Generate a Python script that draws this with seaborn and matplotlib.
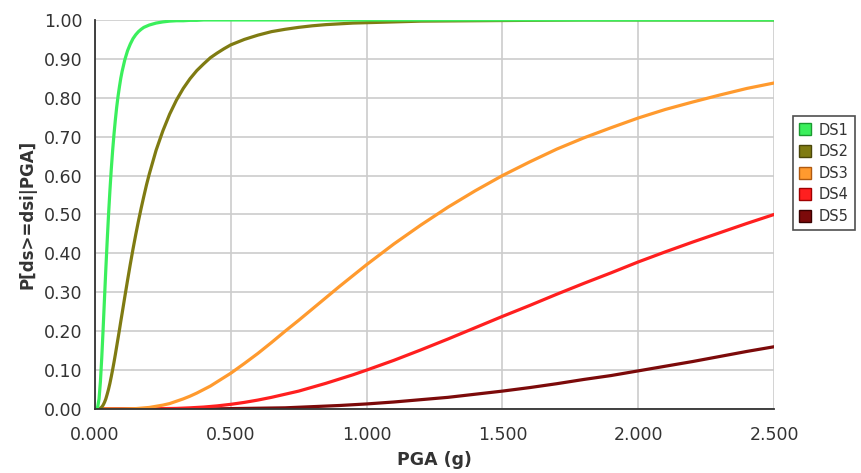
import matplotlib
matplotlib.use("Agg")
import matplotlib.pyplot as plt
from matplotlib.lines import Line2D
import numpy as np
import pandas as pd
import seaborn as sns

# Fragility curves: exceedance probability P[ds >= dsi | PGA] per damage state,
# each sampled at its own set of peak ground accelerations (g)
ds1_pga = [0.000, 0.005, 0.010, 0.015, 0.020, 0.025, 0.030, 0.035, 0.040, 0.045,
           0.050, 0.055, 0.060, 0.065, 0.070, 0.075, 0.080, 0.085, 0.090, 0.095,
           0.100, 0.110, 0.120, 0.130, 0.140, 0.150, 0.160, 0.170, 0.180, 0.190,
           0.200, 0.225, 0.250, 0.275, 0.300, 0.325, 0.350, 0.375, 0.400, 0.500,
           1.000, 1.500, 2.000, 2.500]
ds1_p = [0.000, 0.000, 0.005, 0.026, 0.070, 0.132, 0.205, 0.283, 0.360, 0.432,
         0.500, 0.561, 0.616, 0.664, 0.706, 0.743, 0.776, 0.804, 0.828, 0.850,
         0.868, 0.898, 0.921, 0.938, 0.952, 0.962, 0.970, 0.976, 0.981, 0.984,
         0.987, 0.992, 0.995, 0.997, 0.998, 0.998, 0.999, 0.999, 1.000, 1.000,
         1.000, 1.000, 1.000, 1.000]

ds2_pga = [0.000, 0.010, 0.015, 0.020, 0.025, 0.030, 0.035, 0.040, 0.045, 0.050,
           0.055, 0.060, 0.065, 0.070, 0.075, 0.080, 0.085, 0.090, 0.095, 0.100,
           0.110, 0.120, 0.130, 0.140, 0.150, 0.160, 0.170, 0.180, 0.190, 0.200,
           0.225, 0.250, 0.275, 0.300, 0.325, 0.350, 0.375, 0.400, 0.425, 0.450,
           0.475, 0.500, 0.550, 0.600, 0.650, 0.700, 0.750, 0.800, 0.850, 0.900,
           0.950, 1.000, 1.100, 1.200, 1.400, 1.600, 1.800, 2.000, 2.500]
ds2_p = [0.000, 0.000, 0.001, 0.002, 0.005, 0.010, 0.017, 0.026, 0.038, 0.051,
         0.066, 0.083, 0.101, 0.120, 0.140, 0.161, 0.182, 0.203, 0.225, 0.246,
         0.289, 0.331, 0.372, 0.411, 0.448, 0.483, 0.516, 0.547, 0.577, 0.604,
         0.665, 0.715, 0.758, 0.794, 0.824, 0.849, 0.870, 0.887, 0.903, 0.915,
         0.926, 0.936, 0.950, 0.961, 0.970, 0.976, 0.981, 0.985, 0.988, 0.990,
         0.992, 0.993, 0.995, 0.997, 0.998, 0.999, 1.000, 1.000, 1.000]

ds3_pga = [0.000, 0.100, 0.150, 0.200, 0.225, 0.250, 0.275, 0.300, 0.325, 0.350,
           0.375, 0.400, 0.425, 0.450, 0.475, 0.500, 0.550, 0.600, 0.650, 0.700,
           0.750, 0.800, 0.850, 0.900, 0.950, 1.000, 1.100, 1.200, 1.300, 1.400,
           1.500, 1.600, 1.700, 1.800, 1.900, 2.000, 2.100, 2.200, 2.300, 2.400,
           2.500]
ds3_p = [0.000, 0.000, 0.001, 0.004, 0.007, 0.010, 0.014, 0.020, 0.026, 0.033,
         0.041, 0.050, 0.059, 0.070, 0.081, 0.092, 0.117, 0.143, 0.171, 0.200,
         0.228, 0.257, 0.286, 0.315, 0.343, 0.371, 0.424, 0.473, 0.519, 0.561,
         0.600, 0.635, 0.668, 0.697, 0.723, 0.748, 0.770, 0.789, 0.807, 0.824,
         0.838]

ds4_pga = [0.000, 0.200, 0.250, 0.300, 0.350, 0.400, 0.450, 0.500, 0.550, 0.600,
           0.650, 0.700, 0.750, 0.800, 0.850, 0.900, 0.950, 1.000, 1.100, 1.200,
           1.300, 1.400, 1.500, 1.600, 1.700, 1.800, 1.900, 2.000, 2.100, 2.200,
           2.300, 2.400, 2.500]
ds4_p = [0.000, 0.000, 0.001, 0.0015, 0.003, 0.005, 0.008, 0.012, 0.017, 0.023,
         0.030, 0.038, 0.046, 0.056, 0.066, 0.077, 0.088, 0.100, 0.125, 0.152,
         0.180, 0.209, 0.238, 0.266, 0.295, 0.323, 0.350, 0.378, 0.404, 0.429,
         0.453, 0.477, 0.500]

ds5_pga = [0.000, 0.300, 0.400, 0.500, 0.600, 0.700, 0.800, 0.900, 1.000, 1.100,
           1.200, 1.300, 1.400, 1.500, 1.600, 1.700, 1.800, 1.900, 2.000, 2.100,
           2.200, 2.300, 2.400, 2.500]
ds5_p = [0.000, 0.000, 0.000, 0.001, 0.002, 0.003, 0.006, 0.009, 0.013, 0.018,
         0.024, 0.030, 0.038, 0.046, 0.055, 0.065, 0.076, 0.086, 0.098, 0.110,
         0.122, 0.135, 0.148, 0.160]

states = ["DS1", "DS2", "DS3", "DS4", "DS5"]
colors = ["#3bef5c", "#7f7b12", "#ff9a2e", "#ff1f1f", "#7c0a0a"]
edges = ["#1a9a30", "#4a470a", "#b05a10", "#a00000", "#3a0000"]

series = {"DS1": (ds1_pga, ds1_p), "DS2": (ds2_pga, ds2_p),
          "DS3": (ds3_pga, ds3_p), "DS4": (ds4_pga, ds4_p),
          "DS5": (ds5_pga, ds5_p)}
long = pd.concat([pd.DataFrame({"PGA": x, "P": y, "state": st})
                  for st, (x, y) in series.items()], ignore_index=True)

sns.set_theme(style="white")
plt.rcParams["font.family"] = ["DejaVu Sans"]

fig = plt.figure(figsize=(8.61, 4.73), dpi=100)
ax = fig.add_axes([0.1103, 0.1353, 0.7887, 0.8225])

# Draw later damage states first so the early curves sit on top
for st, c in list(zip(states, colors))[::-1]:
    sub = long[long["state"] == st]
    sns.lineplot(data=sub, x="PGA", y="P", color=c, linewidth=2.3,
                 ax=ax, legend=False, zorder=3)

xt = np.arange(0, 2.51, 0.5)
yt = np.arange(0, 1.001, 0.1)
ax.set_xlim(0, 2.5)
ax.set_ylim(0, 1.0)
ax.set_xticks(xt)
ax.set_yticks(yt)
ax.set_xticklabels([f"{v:.3f}" for v in xt])
ax.set_yticklabels([f"{v:.2f}" for v in yt])
ax.grid(True, color="#cccccc", linewidth=1.2, zorder=0)
ax.set_axisbelow(True)

for side in ["top", "right"]:
    ax.spines[side].set_visible(False)
for side in ["left", "bottom"]:
    ax.spines[side].set_color("#333333")
    ax.spines[side].set_linewidth(1.3)
    ax.spines[side].set_zorder(4)

ax.tick_params(axis="both", direction="out", length=6, width=1.3,
               color="#333333", labelcolor="#333333", labelsize=12.5, pad=3)
ax.tick_params(axis="x", pad=6)

ax.set_xlabel("PGA (g)", fontsize=12.5, fontweight="bold", color="#333333",
              labelpad=5)
ax.set_ylabel("P[ds>=dsi|PGA]", fontsize=12, fontweight="bold", color="#333333",
              labelpad=5)

handles = [Line2D([], [], linestyle="none", marker="s", markersize=8,
                  markerfacecolor=c, markeredgecolor=e, markeredgewidth=1.0)
           for c, e in zip(colors, edges)]
leg = fig.legend(handles, states, loc="upper left",
                 bbox_to_anchor=(793 / 861, 1 - 116 / 473),
                 frameon=True, fancybox=False, fontsize=10.5,
                 handlelength=0.8, handletextpad=0.5, labelspacing=0.45,
                 borderpad=0.45, borderaxespad=0)
leg.get_frame().set_edgecolor("#222222")
leg.get_frame().set_linewidth(1.2)
for t in leg.get_texts():
    t.set_color("#333333")

fig.savefig("out.png", dpi=100)
